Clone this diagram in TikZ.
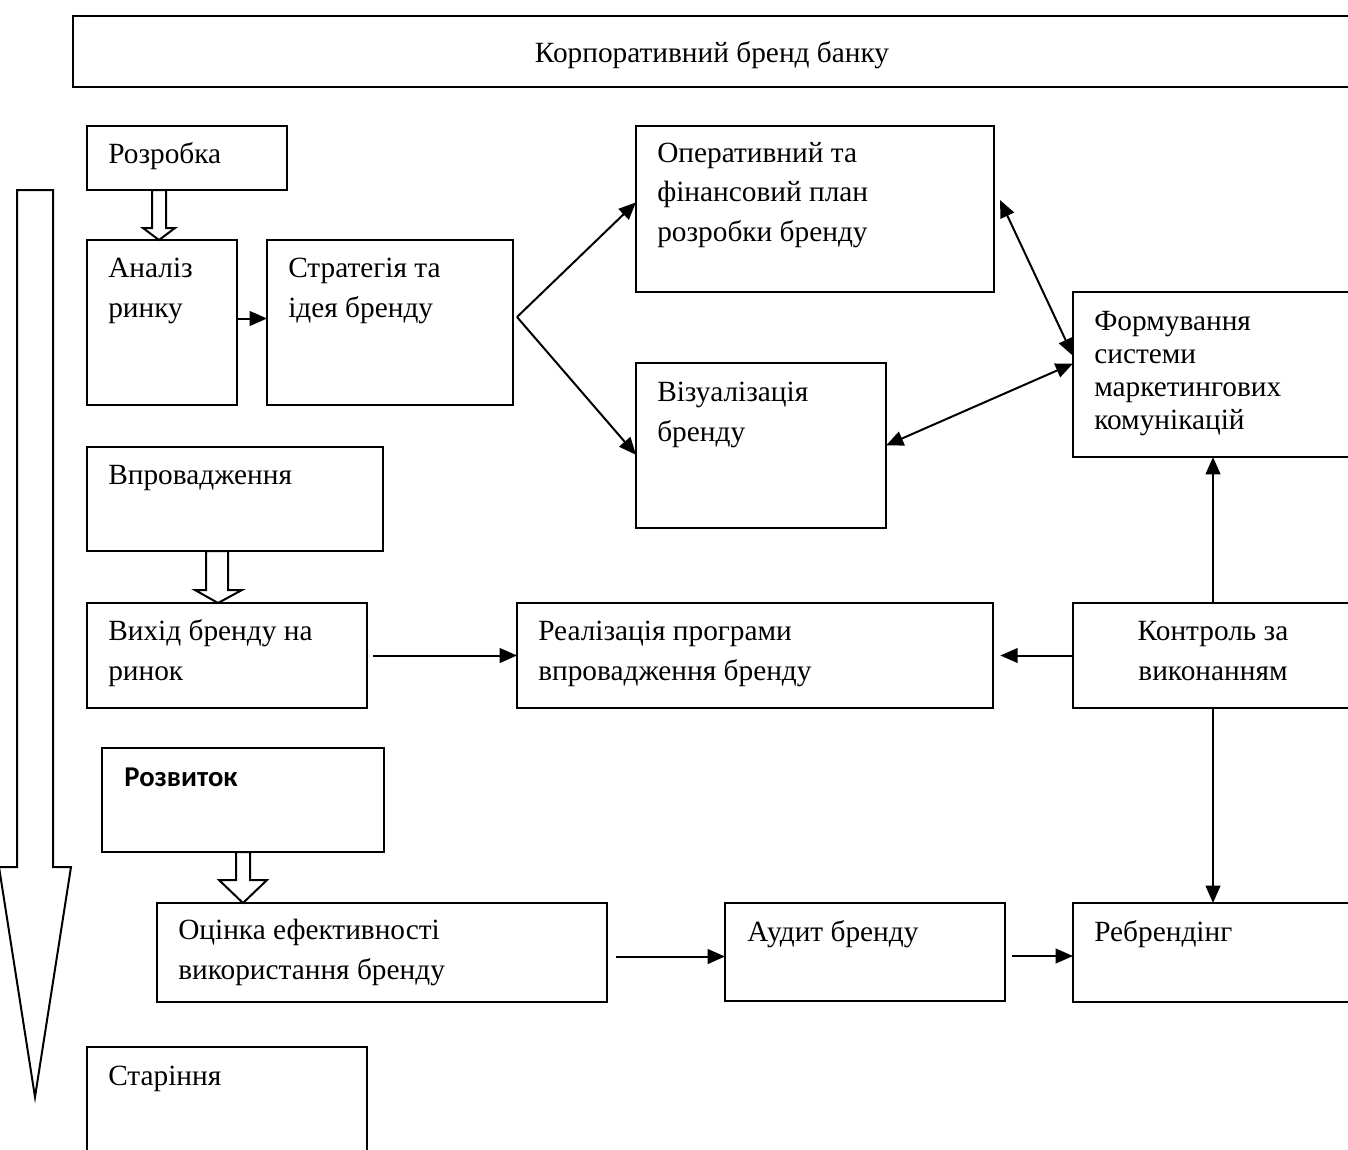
\documentclass[tikz,border=0pt]{standalone}
\usepackage{fontspec}
\setmainfont{Liberation Serif}
\newfontfamily\calibfont{Carlito}
\usetikzlibrary{arrows.meta}
\tikzset{
  box/.style={draw, line width=1.5pt, fill=none, inner sep=0pt, outer sep=0pt},
  txt/.style={inner sep=0pt, align=left, font=\fontsize{22}{29.5}\selectfont},
  arr/.style={line width=1.5pt, -{Triangle[length=13pt,width=11pt]}},
  darr/.style={line width=1.5pt, {Triangle[length=13pt,width=11pt]}-{Triangle[length=13pt,width=11pt]}},
  hollow/.style={draw, line width=1.5pt, fill=white, line join=miter}
}
\newcommand\mkbox[5]{\node[box,anchor=north west,minimum width={(#4-#2)*0.75pt},minimum height={(#5-#3)*0.75pt}] (#1) at (#2,#3) {};}
\begin{document}
\begin{tikzpicture}[x=0.75pt,y=-0.75pt]
\useasboundingbox (0,0) rectangle (1348,1149);
\clip (0,0) rectangle (1348,1149);
\fill[white] (0,0) rectangle (1348,1149);

% boxes
\mkbox{banner}{73}{16}{1360}{87}
\mkbox{rz}{87}{126}{287}{190}
\mkbox{an}{87}{240}{237}{405}
\mkbox{st}{267}{240}{513}{405}
\mkbox{op}{636}{126}{994}{292}
\mkbox{vi}{636}{363}{886}{528}
\mkbox{fo}{1073}{292}{1353}{457}
\mkbox{vp}{87}{447}{383}{551}
\mkbox{vx}{87}{603}{367}{708}
\mkbox{re}{517}{603}{993}{708}
\mkbox{ko}{1073}{603}{1353}{708}
\mkbox{ro}{102}{748}{384}{852}
\mkbox{oc}{157}{903}{607}{1002}
\mkbox{au}{725}{903}{1005}{1001}
\mkbox{rb}{1073}{903}{1353}{1002}
\mkbox{sa}{87}{1047}{367}{1170}

% texts (anchor = baseline of the last line)
\node[txt,anchor=base] (bannert) at (712,63) {Корпоративний бренд банку};
\node[txt,anchor=base west] (rzt) at (108,163) {Розробка};
\node[txt,anchor=base west] (ant) at (108,317) {Аналіз\\ринку};
\node[txt,anchor=base west] (stt) at (288,317) {Стратегія та\\ідея бренду};
\node[txt,anchor=base west] (opt) at (657,241) {Оперативний та\\фінансовий план\\розробки бренду};
\node[txt,anchor=base west] (vit) at (657,441) {Візуалізація\\бренду};
\node[txt,anchor=base west,font=\fontsize{22}{24.75}\selectfont] (fot) at (1094,429) {Формування\\системи\\маркетингових\\комунікацій};
\node[txt,anchor=base west] (vpt) at (108,484) {Впровадження};
\node[txt,anchor=base west] (vxt) at (108,680) {Вихід бренду на\\ринок};
\node[txt,anchor=base west] (ret) at (538,680) {Реалізація програми\\впровадження бренду};
\node[txt,anchor=base,align=center] (kot) at (1213,680) {Контроль за\\виконанням};
\node[txt,anchor=base west,font=\calibfont\bfseries\fontsize{21.5}{26}\selectfont] (rot) at (124,786) {Розвиток};
\node[txt,anchor=base west] (oct) at (178,979) {Оцінка ефективності\\використання бренду};
\node[txt,anchor=base west] (aut) at (747,941) {Аудит бренду};
\node[txt,anchor=base west] (rbt) at (1094,941) {Ребрендінг};
\node[txt,anchor=base west] (sat) at (108,1085) {Старіння};

% big time arrow
\draw[hollow] (17,190) -- (53,190) -- (53,867) -- (71,867) -- (35,1097) -- (-1,867) -- (17,867) -- cycle;

% hollow block arrows
\draw[hollow] (152,190) -- (166,190) -- (166,228) -- (175,228) -- (159,240) -- (143,228) -- (152,228) -- cycle;
\draw[hollow] (206,551) -- (228,551) -- (228,590) -- (242,590) -- (218,603) -- (195,590) -- (206,590) -- cycle;
\draw[hollow] (236,852) -- (250,852) -- (250,880) -- (267,880) -- (243,903) -- (219,880) -- (236,880) -- cycle;

% connectors
\coordinate (fan) at (517,317);
\draw[arr] ([yshift=3pt]an.east) -- ([yshift=3pt]st.west);
\draw[arr] (fan) -- ([yshift=5pt]op.west);
\draw[arr] (fan) -- ([yshift=-7pt]vi.west);
\draw[darr] ([xshift=4.5pt,yshift=6.75pt]op.east) -- ([yshift=14pt]fo.west);
\draw[darr] (vi.east) -- ([yshift=8.25pt]fo.west);
\draw[arr,shorten <=4.5pt] (vx.east) -- (re.west);
\draw[arr,shorten >=5.5pt] (ko.west) -- (re.east);
\draw[arr] (ko.north) -- (fo.south);
\draw[arr] (ko.south) -- (rb.north);
\draw[arr,shorten <=6.5pt] ([yshift=-3pt]oc.east) -- ([yshift=-3pt]oc.east -| au.west);
\draw[arr,shorten <=5pt] ([yshift=-3pt]au.east) -- ([yshift=-3pt]au.east -| rb.west);
\end{tikzpicture}
\end{document}
